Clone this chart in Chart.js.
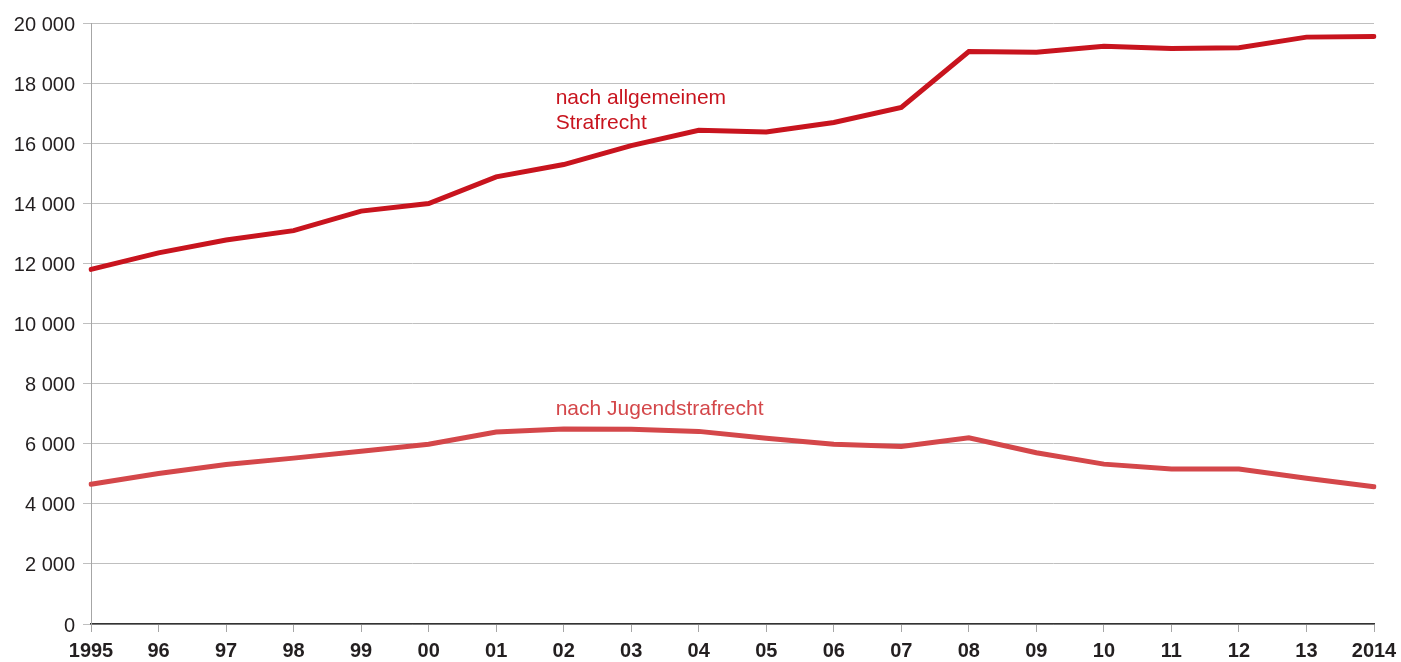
<!DOCTYPE html>
<html>
<head>
<meta charset="utf-8">
<script src="https://cdn.jsdelivr.net/npm/chart.js@4"></script>
<style>
    body { margin: 0; background: #fff; }
    #wrap { width: 1401px; height: 662px; }
</style>
</head>
<body>
<div id="wrap"><canvas id="lineChart" width="1401" height="662"></canvas></div>
<script>
// Jahre (x-Achse)
var years = ['1995', '96', '97', '98', '99', '00', '01', '02', '03', '04', '05', '06', '07', '08', '09', '10', '11', '12', '13', '2014'];

// Verurteilte nach allgemeinem Strafrecht
var allgemein = [11800, 12350, 12780, 13090, 13740, 13990, 14880, 15290, 15920, 16430, 16370, 16690, 17190, 19050, 19030, 19230, 19150, 19180, 19530, 19550];

// Verurteilte nach Jugendstrafrecht
var jugend = [4650, 5010, 5310, 5520, 5750, 5980, 6390, 6490, 6480, 6410, 6180, 5980, 5910, 6200, 5700, 5320, 5160, 5160, 4850, 4570];

// y-Achse
var yTicks = [0, 2000, 4000, 6000, 8000, 10000, 12000, 14000, 16000, 18000, 20000];

var fontFamily = '"Liberation Sans", Arial, Helvetica, sans-serif';

// Beschriftungen direkt an den Linien
var lineLabels = {
    id: 'lineLabels',
    afterDatasetsDraw: function (chart) {
        var ctx = chart.ctx;
        var x = chart.scales.x;
        var y = chart.scales.y;
        var left = x.getPixelForValue(7) - 8;
        ctx.save();
        ctx.font = '21px ' + fontFamily;
        ctx.textAlign = 'left';
        ctx.textBaseline = 'alphabetic';
        ctx.fillStyle = '#c8141e';
        ctx.fillText('nach allgemeinem', left, y.getPixelForValue(17300));
        ctx.fillText('Strafrecht', left, y.getPixelForValue(16470));
        ctx.fillStyle = '#d4474a';
        ctx.fillText('nach Jugendstrafrecht', left, y.getPixelForValue(6970));
        ctx.restore();
    }
};

var ctx = document.getElementById('lineChart').getContext('2d');
new Chart(ctx, {
    type: 'line',
    data: {
        labels: years,
        datasets: [
            {
                label: 'nach allgemeinem Strafrecht',
                data: allgemein,
                borderColor: '#c8141e',
                borderWidth: 5,
                borderCapStyle: 'round',
                pointRadius: 0,
                tension: 0,
                fill: false
            },
            {
                label: 'nach Jugendstrafrecht',
                data: jugend,
                borderColor: '#d4474a',
                borderWidth: 5,
                borderCapStyle: 'round',
                pointRadius: 0,
                tension: 0,
                fill: false
            }
        ]
    },
    plugins: [lineLabels],
    options: {
        responsive: false,
        animation: false,
        layout: {
            padding: { left: 0, top: 23, right: 27, bottom: 0 }
        },
        plugins: {
            legend: { display: false },
            tooltip: { enabled: false }
        },
        scales: {
            x: {
                offset: false,
                afterFit: function (scale) {
                    scale.height = 38;
                    scale.paddingLeft = 0;
                    scale.paddingRight = 0;
                },
                grid: {
                    drawOnChartArea: false,
                    drawTicks: true,
                    tickLength: 8,
                    color: '#a6a6a6'
                },
                border: { display: true, color: '#333333', width: 1.5 },
                ticks: {
                    autoSkip: false,
                    maxRotation: 0,
                    padding: 7,
                    color: '#231f20',
                    font: { family: fontFamily, size: 20, weight: 'bold' }
                }
            },
            y: {
                min: 0,
                max: 20000,
                afterFit: function (scale) {
                    scale.width = 91;
                    scale.paddingTop = 0;
                    scale.paddingBottom = 0;
                },
                afterBuildTicks: function (scale) {
                    scale.ticks = yTicks.map(function (v) { return { value: v }; });
                },
                grid: {
                    color: '#bfbfbf',
                    lineWidth: 1,
                    tickLength: 8
                },
                border: { display: true, color: '#a6a6a6', width: 1 },
                ticks: {
                    padding: 8,
                    labelOffset: 2,
                    color: '#231f20',
                    font: { family: fontFamily, size: 20 },
                    callback: function (value) {
                        return String(value).replace(/\B(?=(\d{3})+(?!\d))/g, ' ');
                    }
                }
            }
        }
    }
});
</script>
</body>
</html>
